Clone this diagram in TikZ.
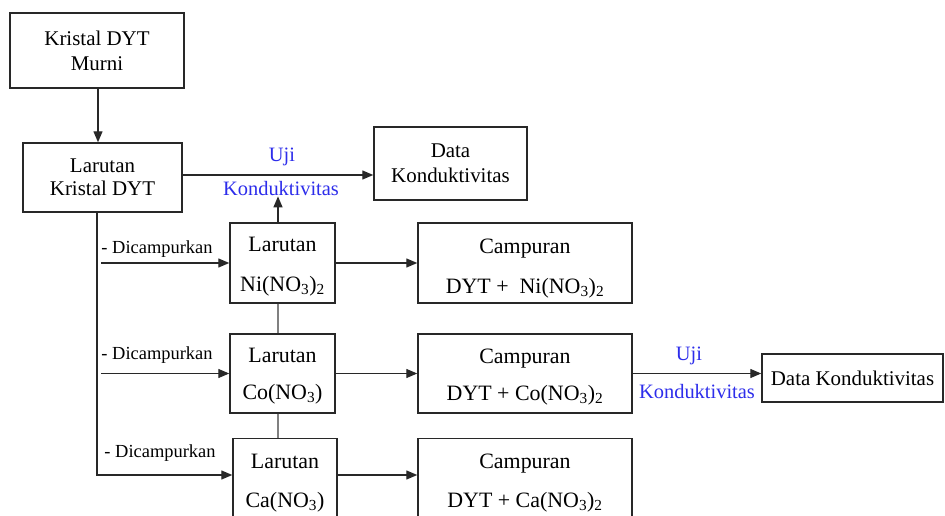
\documentclass[tikz,border=0pt]{standalone}
\usepackage{fontspec}
\setmainfont{Liberation Serif}
\usetikzlibrary{arrows.meta,calc}
\definecolor{lbl}{RGB}{45,45,235}
\definecolor{ln}{RGB}{40,40,40}
\newcommand{\up}[1]{\rule{0pt}{#1bp}}
\begin{document}
\begin{tikzpicture}[x=1bp,y=-1bp,
  box/.style={draw=ln,line width=1.4bp,fill=white,align=center,inner sep=0pt,font=\fontsize{21}{25}\selectfont},
  arr/.style={draw=ln,line width=1.3bp,-{Triangle[length=11bp,width=9bp]}},
  plain/.style={draw=ln,line width=1.3bp},
  grayl/.style={draw=gray,line width=1.3bp},
  bl/.style={text=lbl,inner sep=0pt,font=\fontsize{20.5}{22}\selectfont},
  dc/.style={inner sep=0pt,font=\fontsize{18.5}{20}\selectfont}]
\useasboundingbox (0,0) rectangle (945,516);
\clip (0,0) rectangle (945,516);
\fill[white] (0,0) rectangle (945,516);
% boxes
\node[box,minimum width=174bp,minimum height=75bp] (k1) at (97,50.5) {Kristal DYT\\Murni};
\node[box,minimum width=159bp,minimum height=69bp,font=\fontsize{21}{23}\selectfont] (k2) at (102.5,177.5) {Larutan\\Kristal DYT};
\node[box,minimum width=153bp,minimum height=73bp] (d1) at (450.5,163.5) {Data\\Konduktivitas};
\node[box,minimum width=105bp,minimum height=80bp,font=\fontsize{22}{40}\selectfont] (ni) at (282.5,263) {\up{22.5}Larutan\\Ni(NO\textsubscript{3})\textsubscript{2}};
\node[box,minimum width=105bp,minimum height=79bp,font=\fontsize{22}{37}\selectfont] (co) at (282.5,373.5) {\up{20.5}Larutan\\Co(NO\textsubscript{3})};
\node[box,minimum width=104bp,minimum height=82bp,font=\fontsize{22}{39}\selectfont,anchor=north] (ca) at (285,438) {\up{20.5}Larutan\\Ca(NO\textsubscript{3})};
\node[box,minimum width=214bp,minimum height=80bp,font=\fontsize{22}{40}\selectfont] (cn) at (525,263) {\up{25}Campuran\\DYT +\ \ Ni(NO\textsubscript{3})\textsubscript{2}};
\node[box,minimum width=214bp,minimum height=79bp,font=\fontsize{22}{37}\selectfont] (cc) at (525,373.5) {\up{21}Campuran\\DYT + Co(NO\textsubscript{3})\textsubscript{2}};
\node[box,minimum width=214bp,minimum height=82bp,font=\fontsize{22}{39}\selectfont,anchor=north] (cca) at (525,438) {\up{21}Campuran\\DYT + Ca(NO\textsubscript{3})\textsubscript{2}};
\node[box,minimum width=181bp,minimum height=48bp] (d2) at (852.5,378) {Data Konduktivitas};
% labels
\node[bl] (u1) at (282,157) {Uji};
\node[bl] (kv1) at (281,189) {Konduktivitas};
\node[bl] (u2) at (689,356) {Uji};
\node[bl] (kv2) at (697,392) {Konduktivitas};
\node[dc] (l1) at (157,249) {- Dicampurkan};
\node[dc] (l2) at (157,355) {- Dicampurkan};
\node[dc] (l3) at (160,453) {- Dicampurkan};
% helper coordinates
\coordinate (j1) at (0,175);
\coordinate (vx) at (278,0);
\coordinate (tr) at (97,0);
\coordinate (yca) at (0,475);
% connectors
\draw[arr] (k1.south -| 98,0) -- (k2.north -| 98,0);
\draw[arr] (k2.east |- j1) -- (d1.west |- j1);
\draw[arr] (ni.north -| vx) -- (kv1.south -| vx);
\draw[grayl] (ni.south -| vx) -- (co.north -| vx);
\draw[grayl] (co.south -| vx) -- (ca.north -| vx);
\draw[arr] (k2.south -| tr) -- (tr |- yca) -- (ca.west |- yca);
\draw[arr] (ni.west -| tr) ++(4,0) -- (ni.west);
\draw[arr] (co.west -| tr) ++(4,0) -- (co.west);
\draw[arr] (ni.east) -- (cn.west);
\draw[arr] (co.east) -- (cc.west);
\draw[arr] (ca.east |- yca) -- (cca.west |- yca);
\draw[arr] (cc.east) -- (cc.east -| d2.west);
\end{tikzpicture}
\end{document}
